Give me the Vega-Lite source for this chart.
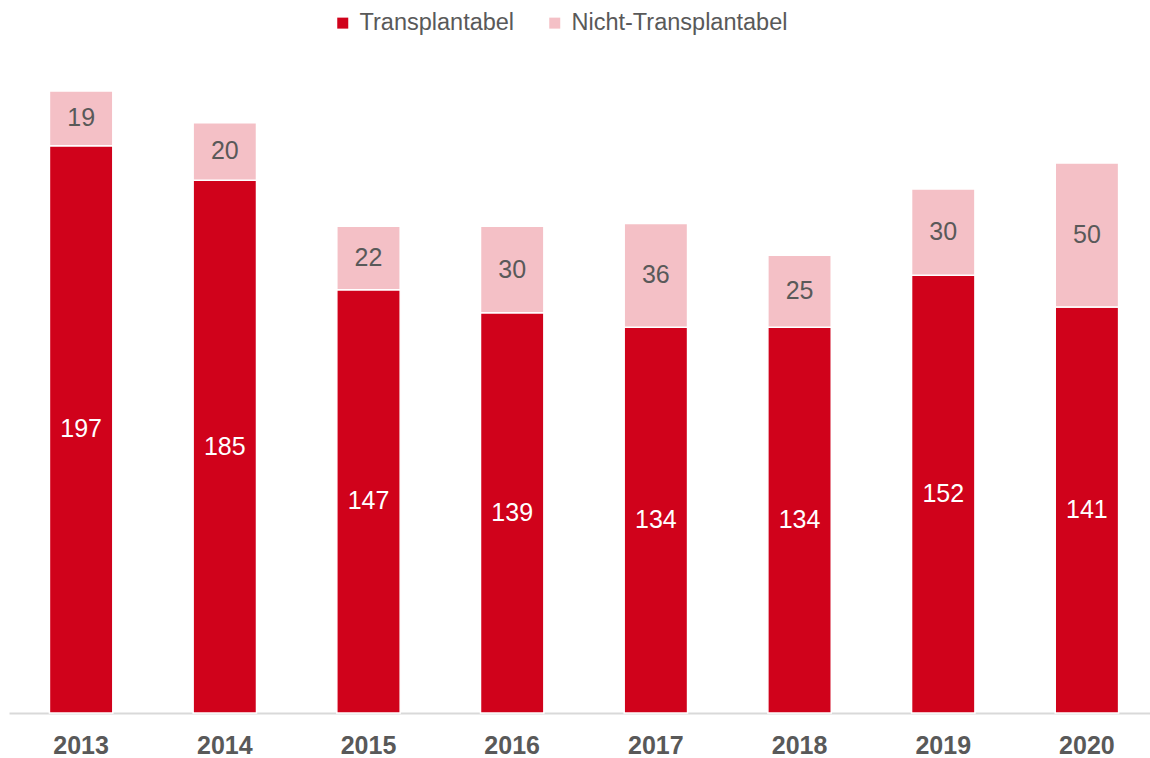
{
  "$schema": "https://vega.github.io/schema/vega-lite/v6.json",
  "autosize": "none",
  "width": 1141,
  "height": 622,
  "padding": {"left": 9, "top": 91, "right": 0, "bottom": 45},
  "background": "white",
  "config": {
    "view": {"stroke": null},
    "font": "Liberation Sans"
  },
  "data": {
    "values": [
      {"year": "2013", "cat": "Transplantabel", "value": 197},
      {"year": "2013", "cat": "Nicht-Transplantabel", "value": 19},
      {"year": "2014", "cat": "Transplantabel", "value": 185},
      {"year": "2014", "cat": "Nicht-Transplantabel", "value": 20},
      {"year": "2015", "cat": "Transplantabel", "value": 147},
      {"year": "2015", "cat": "Nicht-Transplantabel", "value": 22},
      {"year": "2016", "cat": "Transplantabel", "value": 139},
      {"year": "2016", "cat": "Nicht-Transplantabel", "value": 30},
      {"year": "2017", "cat": "Transplantabel", "value": 134},
      {"year": "2017", "cat": "Nicht-Transplantabel", "value": 36},
      {"year": "2018", "cat": "Transplantabel", "value": 134},
      {"year": "2018", "cat": "Nicht-Transplantabel", "value": 25},
      {"year": "2019", "cat": "Transplantabel", "value": 152},
      {"year": "2019", "cat": "Nicht-Transplantabel", "value": 30},
      {"year": "2020", "cat": "Transplantabel", "value": 141},
      {"year": "2020", "cat": "Nicht-Transplantabel", "value": 50}
    ]
  },
  "transform": [
    {"stack": "value", "groupby": ["year"], "sort": [{"field": "cat", "order": "descending"}], "as": ["v0", "v1"]},
    {"calculate": "(datum.v0 + datum.v1) / 2", "as": "mid"}
  ],
  "encoding": {
    "x": {
      "field": "year",
      "type": "ordinal",
      "scale": {"paddingInner": 0.559, "paddingOuter": 0.25, "align": 0.563},
      "axis": {
        "title": null,
        "labelAngle": 0,
        "labelFont": "Liberation Sans",
        "labelFontSize": 25,
        "labelFontWeight": "bold",
        "labelColor": "#595959",
        "labelPadding": 20,
        "ticks": false,
        "domainColor": "#D9D9D9",
        "domainWidth": 2,
        "grid": false
      }
    }
  },
  "layer": [
    {
      "mark": {"type": "bar", "stroke": "white", "strokeWidth": 1.5},
      "encoding": {
        "y": {"field": "v1", "type": "quantitative", "scale": {"domain": [0, 216], "nice": false, "zero": true}, "axis": null},
        "y2": {"field": "v0"},
        "color": {
          "field": "cat",
          "type": "nominal",
          "scale": {"domain": ["Transplantabel", "Nicht-Transplantabel"], "range": ["#D0021B", "#F4C0C6"]},
          "legend": {
            "title": null,
            "orient": "none",
            "direction": "horizontal",
            "legendX": 322,
            "legendY": -80,
            "symbolType": "square",
            "symbolSize": 121,
            "symbolStrokeWidth": 0,
            "labelFont": "Liberation Sans",
            "labelFontSize": 23.5,
            "labelColor": "#595959",
            "labelOffset": 5,
            "columnPadding": 28,
            "labelLimit": 400
          }
        }
      }
    },
    {
      "mark": {"type": "text", "font": "Liberation Sans", "fontSize": 25, "baseline": "middle", "align": "center"},
      "encoding": {
        "y": {"field": "mid", "type": "quantitative"},
        "text": {"field": "value", "type": "quantitative"},
        "color": {
          "condition": {"test": "datum.cat === 'Transplantabel'", "value": "white"},
          "value": "#595959"
        }
      }
    }
  ]
}
